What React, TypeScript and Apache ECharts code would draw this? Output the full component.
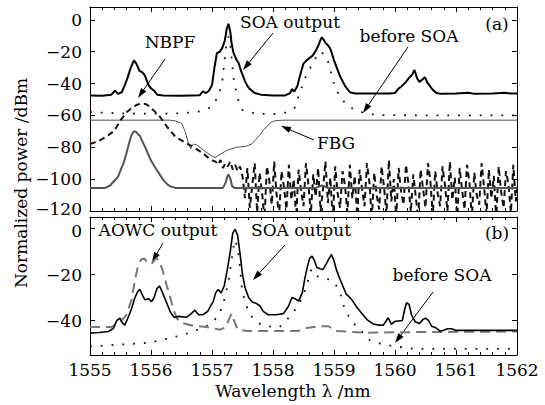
import React, { useEffect, useRef } from "react";
import * as echarts from "echarts";

// ---------- data (wavelength nm, power dBm) ----------
const xTicks = [1555, 1556, 1557, 1558, 1559, 1560, 1561, 1562];
const yTicksA = [0, -20, -40, -60, -80, -100, -120];
const yTicksB = [0, -20, -40];

const soaOutA: number[][] = [
  [1555.0, -47.5], [1555.2, -47.7], [1555.35, -47], [1555.41, -44.5], [1555.46, -46.5], [1555.52, -45.5],
  [1555.57, -41], [1555.62, -36], [1555.66, -31], [1555.72, -25.5], [1555.76, -27.5], [1555.81, -32],
  [1555.86, -33], [1555.9, -35], [1555.93, -38], [1555.96, -41], [1556.0, -43], [1556.05, -44.5],
  [1556.1, -47], [1556.2, -47.5], [1556.5, -47.7], [1556.8, -47.3], [1556.85, -45], [1556.9, -46],
  [1556.95, -44.5], [1557.0, -41], [1557.04, -30], [1557.08, -21], [1557.13, -20], [1557.17, -17.5],
  [1557.21, -13], [1557.24, -6], [1557.27, -2.5], [1557.3, -7.5], [1557.32, -14.5], [1557.35, -20.5],
  [1557.4, -25], [1557.44, -27.5], [1557.47, -31.5], [1557.5, -34.5], [1557.54, -38.5], [1557.58, -41.5],
  [1557.62, -43.5], [1557.7, -46], [1557.8, -47], [1558.0, -47.5], [1558.2, -47.5], [1558.28, -46],
  [1558.31, -43.5], [1558.35, -45], [1558.4, -41.5], [1558.44, -35.5], [1558.5, -27.5], [1558.55, -25.5],
  [1558.6, -24], [1558.65, -22.5], [1558.7, -19.5], [1558.74, -16.5], [1558.78, -12.5], [1558.8, -11],
  [1558.83, -12.5], [1558.86, -14.5], [1558.9, -16], [1558.93, -17.5], [1558.96, -20.5], [1559.0, -25.5],
  [1559.05, -30.5], [1559.1, -35.5], [1559.18, -41.5], [1559.26, -45.5], [1559.35, -46.3], [1559.6, -46.3],
  [1559.9, -46.3], [1560.0, -46], [1560.05, -43.5], [1560.1, -42], [1560.13, -41], [1560.18, -39],
  [1560.23, -36.5], [1560.28, -34.5], [1560.32, -31.5], [1560.36, -36.5], [1560.4, -39], [1560.45, -37.5],
  [1560.49, -36], [1560.53, -39.5], [1560.58, -42], [1560.62, -44], [1560.68, -46], [1560.75, -46.5],
  [1561.0, -46.3], [1561.2, -45.8], [1561.3, -46.5], [1561.6, -46.3], [1561.8, -45.8], [1561.9, -46.3],
  [1562.0, -46.3],
];

const beforeA: number[][] = [
  [1555.0, -58], [1555.2, -58.3], [1555.5, -58.7], [1556.0, -59], [1556.5, -58.7], [1556.8, -57.5],
  [1556.95, -55.5], [1557.05, -51.5], [1557.12, -46.5], [1557.17, -38.5], [1557.2, -27.5], [1557.23, -17.5],
  [1557.27, -10.5], [1557.3, -15.5], [1557.33, -27.5], [1557.36, -38.5], [1557.42, -49.5], [1557.5, -56.5],
  [1557.7, -58.8], [1558.0, -59.2], [1558.2, -58.3], [1558.35, -55.5], [1558.44, -46], [1558.52, -37],
  [1558.6, -31], [1558.68, -25], [1558.78, -20], [1558.88, -23], [1558.95, -33], [1559.02, -43],
  [1559.13, -50], [1559.26, -55], [1559.45, -58], [1559.7, -59.8], [1560.5, -60], [1561.0, -60],
  [1562.0, -60],
];

const nbpfA: number[][] = [
  [1555.0, -78], [1555.15, -76], [1555.3, -72.5], [1555.4, -69.5], [1555.52, -62], [1555.6, -58],
  [1555.68, -55.5], [1555.76, -53.5], [1555.84, -52.5], [1555.92, -53], [1555.98, -54.5], [1556.06, -57.5],
  [1556.15, -61], [1556.26, -67], [1556.4, -73.5], [1556.58, -77.5], [1556.7, -80], [1556.86, -84],
  [1556.95, -87], [1557.02, -88.5],
];
// noise floor of the NBPF trace, one value every 0.04 nm from 1557.06 nm
const nbpfNoiseStart = 1557.06;
const nbpfNoiseStep = 0.04;
const nbpfNoise: number[] = [
  -89, -91, -88, -93, -90, -92, -89, -94, -91, -95, -92,
  -98, -112, -93, -118, -104, -90, -121, -96, -108, -125,
  -92, -101, -116, -89, -110, -123, -95, -105, -119, -91,
  -113, -100, -124, -94, -107, -117, -90, -103, -122, -97,
  -111, -93, -120, -106, -89, -115, -99, -126, -92, -109,
  -118, -95, -104, -121, -91, -112, -98, -123, -94, -106,
  -117, -90, -102, -125, -96, -110, -119, -92, -105, -122,
  -88, -114, -100, -124, -93, -108, -116, -91, -103, -121,
  -97, -111, -125, -94, -106, -118, -90, -101, -123, -95,
  -109, -117, -92, -104, -120, -89, -113, -99, -126, -93,
  -107, -119, -91, -102, -124, -96, -110, -116, -90, -105,
  -122, -94, -112, -98, -125, -92, -108, -118, -95, -103,
  -121, -91, -114, -100,
];

const fbgA: number[][] = [
  [1555.0, -63], [1556.3, -63], [1556.4, -63.5], [1556.5, -65], [1556.56, -70], [1556.61, -77],
  [1556.65, -81], [1556.67, -79], [1556.7, -78], [1556.75, -78.5], [1556.8, -80], [1556.9, -83],
  [1557.0, -85.5], [1557.05, -86.5], [1557.13, -84.5], [1557.24, -82], [1557.4, -80], [1557.55, -79.5],
  [1557.65, -78], [1557.72, -75], [1557.79, -72], [1557.85, -69], [1557.9, -67], [1557.96, -64.5],
  [1558.05, -63.2], [1558.2, -63], [1562.0, -63],
];

const filteredA: number[][] = [
  [1555.0, -105.5], [1555.25, -105.5], [1555.33, -104], [1555.4, -101], [1555.46, -98.5], [1555.5, -94.5],
  [1555.55, -90], [1555.6, -83.5], [1555.64, -77.5], [1555.68, -72.5], [1555.72, -70], [1555.76, -70.5],
  [1555.79, -72], [1555.82, -73], [1555.86, -76.5], [1555.9, -79.5], [1555.95, -84], [1555.99, -87.5],
  [1556.04, -91], [1556.09, -94], [1556.15, -97.5], [1556.2, -100.5], [1556.26, -103], [1556.31, -104.5],
  [1556.4, -105.5], [1557.18, -105.5], [1557.22, -102.5], [1557.25, -98.5], [1557.27, -97], [1557.3, -99.5],
  [1557.33, -104.5], [1557.37, -105.5], [1558.7, -105.5], [1558.8, -104], [1558.9, -105.5], [1562.0, -105.5],
];

const soaOutB: number[][] = [
  [1555.0, -45.5], [1555.15, -45.2], [1555.3, -44.8], [1555.38, -43.5], [1555.44, -40], [1555.49, -39],
  [1555.53, -41], [1555.57, -42], [1555.62, -39], [1555.68, -35], [1555.73, -30.5], [1555.78, -27.5],
  [1555.82, -26.5], [1555.86, -29], [1555.9, -31], [1555.96, -30.5], [1556.01, -31.8], [1556.05, -30],
  [1556.1, -26], [1556.14, -25], [1556.19, -28], [1556.26, -32.5], [1556.32, -36.5], [1556.38, -38.7],
  [1556.45, -38.2], [1556.58, -38.6], [1556.66, -37], [1556.72, -35.5], [1556.78, -37.5], [1556.85, -37.5],
  [1556.93, -36], [1556.98, -33.5], [1557.02, -31.8], [1557.06, -28], [1557.1, -26.5], [1557.15, -28],
  [1557.2, -25], [1557.25, -18], [1557.3, -10], [1557.34, -2], [1557.38, -0.3], [1557.42, -3],
  [1557.46, -11], [1557.5, -20], [1557.54, -25.5], [1557.6, -30], [1557.66, -32], [1557.72, -32.5],
  [1557.78, -33.5], [1557.84, -36], [1557.92, -37.5], [1558.05, -37.5], [1558.17, -37], [1558.25, -34],
  [1558.31, -30], [1558.36, -30.5], [1558.42, -31.6], [1558.48, -28], [1558.52, -22], [1558.56, -17],
  [1558.6, -13], [1558.64, -12], [1558.68, -14], [1558.72, -17], [1558.77, -17.5], [1558.82, -17.8],
  [1558.87, -15.5], [1558.92, -13], [1558.96, -11.3], [1559.0, -14], [1559.04, -18], [1559.1, -22.2],
  [1559.16, -26], [1559.2, -28.5], [1559.26, -30], [1559.32, -32], [1559.38, -34.5], [1559.45, -36.7],
  [1559.54, -39.6], [1559.64, -41.5], [1559.74, -42], [1559.81, -42], [1559.86, -40], [1559.89, -38.8],
  [1559.94, -41.7], [1559.99, -40.5], [1560.05, -40.2], [1560.12, -40], [1560.16, -35], [1560.19, -32.3],
  [1560.23, -33], [1560.27, -37.5], [1560.33, -40.5], [1560.4, -41.3], [1560.46, -39.5], [1560.5, -39],
  [1560.55, -40], [1560.6, -42.5], [1560.66, -43], [1560.74, -44.6], [1560.8, -44.2], [1560.86, -43.6],
  [1560.93, -43.6], [1561.0, -44.3], [1561.5, -44.3], [1562.0, -44.3],
];

const aowcB: number[][] = [
  [1555.0, -42.8], [1555.35, -42.8], [1555.49, -41], [1555.6, -37.4], [1555.68, -31], [1555.74, -22],
  [1555.79, -16], [1555.84, -13.5], [1555.89, -13], [1555.96, -15.5], [1556.02, -15], [1556.09, -12.8],
  [1556.14, -14.5], [1556.2, -19], [1556.26, -25], [1556.31, -29.5], [1556.36, -34.5], [1556.42, -39],
  [1556.5, -41], [1556.69, -42.3], [1556.91, -42.8], [1557.13, -44], [1557.22, -43], [1557.27, -40],
  [1557.32, -37], [1557.36, -40], [1557.42, -43.9], [1557.57, -44.6], [1558.4, -44.6], [1558.55, -43.3],
  [1558.77, -42.5], [1558.91, -42.5], [1559.04, -44.6], [1559.54, -45.3], [1560.5, -45], [1562.0, -44.8],
];

const beforeB: number[][] = [
  [1555.0, -51.3], [1555.4, -50.6], [1555.8, -50], [1556.0, -49.6], [1556.15, -48.6], [1556.31, -47.5],
  [1556.5, -46.5], [1556.66, -45], [1556.86, -43.2], [1557.0, -41], [1557.1, -38], [1557.16, -34.5],
  [1557.21, -30], [1557.27, -23], [1557.32, -14], [1557.37, -5], [1557.42, -8], [1557.46, -17],
  [1557.49, -26], [1557.54, -32], [1557.62, -37.4], [1557.74, -41], [1557.9, -42.5], [1558.1, -43],
  [1558.22, -40], [1558.38, -34.8], [1558.5, -29], [1558.58, -22.2], [1558.63, -17.8], [1558.7, -20.5],
  [1558.8, -21.5], [1558.93, -22.2], [1559.02, -24], [1559.1, -28], [1559.15, -33], [1559.24, -38.1],
  [1559.34, -41.7], [1559.45, -44.6], [1559.59, -48.7], [1559.75, -50], [1559.94, -51], [1560.3, -52.3],
  [1562.0, -52.3],
];

// ---------- styling ----------
const FAMILY = "DejaVu Serif";
const FS = 17;
const fmt = (v: number) => (v < 0 ? "\u2212" + Math.abs(v) : String(v));
const CSS = "#fig svg text, #fig svg tspan { font-family: 'DejaVu Serif', 'Liberation Serif', serif !important; }";

function arrow(x1: number, y1: number, x2: number, y2: number) {
  const a = Math.atan2(y2 - y1, x2 - x1);
  const L = 10, W = 3.2;
  const bx = x2 - L * Math.cos(a), by = y2 - L * Math.sin(a);
  const px = -Math.sin(a) * W, py = Math.cos(a) * W;
  return [
    { type: "line", shape: { x1, y1, x2: bx, y2: by }, style: { stroke: "#000", lineWidth: 1 } },
    { type: "polygon", shape: { points: [[x2, y2], [bx + px, by + py], [bx - px, by - py]] }, style: { fill: "#000" } },
  ];
}
function label(text: string, x: number, y: number, rotation = 0) {
  return {
    type: "text", x, y, rotation,
    style: { text, fontFamily: FAMILY, fontSize: FS, fill: "#000", align: "center", verticalAlign: "middle" },
  };
}

function xAxisDef(gridIndex: number, position: "top" | "bottom", showLabels: boolean) {
  return {
    type: "value", gridIndex, position, min: xTicks[0], max: xTicks[xTicks.length - 1], interval: 1,
    axisLine: { show: true, onZero: false, lineStyle: { color: "#000", width: 1 } },
    axisTick: { show: true, inside: true, length: 5, lineStyle: { color: "#000" } },
    minorTick: { show: true, splitNumber: 5, length: 3, lineStyle: { color: "#000" } },
    splitLine: { show: false },
    axisLabel: { show: showLabels, color: "#000", fontFamily: FAMILY, fontSize: FS, margin: 6, formatter: (v: number) => String(v) },
  };
}
// edge labels nudged apart (−120 of panel a up, 0 of panel b down)
function yAxisDef(gridIndex: number, position: "left" | "right", min: number, max: number, ticks: number[], showLabels: boolean, nudge: "up" | "down" | "none") {
  return {
    type: "value", gridIndex, position, min, max,
    axisLine: { show: true, onZero: false, lineStyle: { color: "#000", width: 1 } },
    axisTick: { show: true, inside: true, length: 5, customValues: ticks, lineStyle: { color: "#000" } },
    splitLine: { show: false },
    axisLabel: {
      show: showLabels, customValues: ticks, color: "#000", fontFamily: FAMILY, fontSize: FS, margin: 8,
      formatter: (v: number) => {
        if (nudge === "up" && v === min) return "{u|" + fmt(v) + "}";
        if (nudge === "down" && v === 0) return "{d|" + fmt(v) + "}";
        return fmt(v);
      },
      rich: {
        u: { fontFamily: FAMILY, fontSize: FS, color: "#000", padding: [0, 0, 4, 0] },
        d: { fontFamily: FAMILY, fontSize: FS, color: "#000", padding: [4, 0, 0, 0] },
      },
    },
  };
}
function line(name: string, data: number[][], xi: number, yi: number, lineStyle: any) {
  return { name, type: "line", xAxisIndex: xi, yAxisIndex: yi, data, symbol: "none", showSymbol: false, clip: true, lineStyle, z: 3 };
}

export default function App() {
  const ref = useRef<HTMLDivElement>(null);
  useEffect(() => {
    if (!ref.current) return;
    const chart = echarts.init(ref.current, null, { renderer: "svg" });
    const nbpfFull = nbpfA.concat(nbpfNoise.map((v, i) => [nbpfNoiseStart + i * nbpfNoiseStep, v]));
    const graphics: any[] = [
      label("NBPF", 170, 42),
      ...arrow(165, 59, 138, 98),
      label("SOA output", 290, 22),
      ...arrow(273, 33, 243, 70),
      label("before SOA", 409, 36),
      ...arrow(408, 47, 363, 113),
      label("(a)", 497, 24),
      label("FBG", 336, 143),
      ...arrow(314, 140, 281, 126),
      label("AOWC output", 158, 230),
      ...arrow(163, 243, 152, 262),
      label("SOA output", 301, 230),
      ...arrow(285, 245, 253, 280),
      label("before SOA", 442, 275),
      ...arrow(433, 292, 395, 343),
      label("(b)", 497, 233),
      label("Normalized power /dBm", 21, 183, Math.PI / 2),
      label("Wavelength \u03bb /nm", 293, 391),
    ];
    chart.setOption({
      animation: false,
      grid: [
        { left: 90, top: 7, width: 427, height: 204 },
        { left: 90, top: 217, width: 427, height: 138 },
      ],
      xAxis: [
        xAxisDef(0, "bottom", false),
        xAxisDef(0, "top", false),
        xAxisDef(1, "bottom", true),
        xAxisDef(1, "top", false),
      ],
      yAxis: [
        yAxisDef(0, "left", -120, 8, yTicksA, true, "up"),
        yAxisDef(0, "right", -120, 8, yTicksA, false, "none"),
        yAxisDef(1, "left", -55, 5, yTicksB, true, "down"),
        yAxisDef(1, "right", -55, 5, yTicksB, false, "none"),
      ],
      series: [
        line("FBG", fbgA, 0, 0, { color: "#222", width: 0.8 }),
        line("NBPF", nbpfFull, 0, 0, { color: "#111", width: 2, type: [6, 4] }),
        line("filtered", filteredA, 0, 0, { color: "#555", width: 2 }),
        line("before SOA (a)", beforeA, 0, 0, { color: "#111", width: 1.8, type: [1.8, 9] }),
        line("SOA output (a)", soaOutA, 0, 0, { color: "#000", width: 2 }),
        line("before SOA (b)", beforeB, 2, 2, { color: "#111", width: 1.8, type: [1.8, 9] }),
        line("AOWC output", aowcB, 2, 2, { color: "#777", width: 2, type: [10, 6] }),
        line("SOA output (b)", soaOutB, 2, 2, { color: "#000", width: 1.6 }),
      ],
      graphic: graphics,
    });
    return () => chart.dispose();
  }, []);
  return (
    <div id="fig" style={{ position: "fixed", left: 0, top: 0, width: 545, height: 405, background: "#fff" }}>
      <style>{CSS}</style>
      <div ref={ref} style={{ width: 545, height: 405 }} />
    </div>
  );
}
